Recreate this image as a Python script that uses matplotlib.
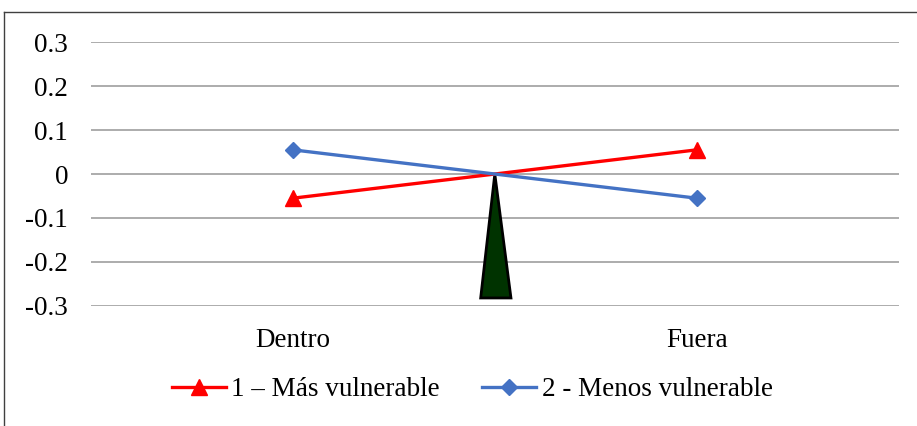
import matplotlib.pyplot as plt
from matplotlib.lines import Line2D
from matplotlib.patches import Polygon

# datos
categorias = ['Dentro', 'Fuera']
mas_vulnerable = [-0.055, 0.055]
menos_vulnerable = [0.055, -0.055]
y_ticks = [-0.3, -0.2, -0.1, 0, 0.1, 0.2, 0.3]
y_labels = ['-0.3', '-0.2', '-0.1', '0', '0.1', '0.2', '0.3']

# triangulo (fulcro) en coordenadas de datos
fulcro_x = [0.5, 0.465, 0.54]
fulcro_y = [0.0, -0.282, -0.282]

plt.rcParams['font.family'] = ['Liberation Serif', 'DejaVu Serif']
fs = 19.5

fig = plt.figure(figsize=(9.17, 4.26), dpi=100)
ax = fig.add_axes([0.0992, 0.282, 0.8808, 0.619])

x = range(len(categorias))
ax.set_axisbelow(True)
for t in y_ticks:
    ax.axhline(t, color='#A6A6A6', lw=1.3, zorder=0)

tri = Polygon(list(zip(fulcro_x, fulcro_y)), closed=True, facecolor='#003300',
              edgecolor='black', lw=2, zorder=3)
ax.add_patch(tri)

ax.plot(x, mas_vulnerable, color='#FF0000', lw=2.4, marker='^', markersize=11,
        label='1 – Más vulnerable', zorder=4)
ax.plot(x, menos_vulnerable, color='#4472C4', lw=2.4, marker='D', markersize=8,
        label='2 - Menos vulnerable', zorder=4)

ax.set_xlim(-0.5, 1.5)
ax.set_ylim(-0.3, 0.3)
ax.set_xticks(list(x))
ax.set_xticklabels(categorias, fontsize=fs)
ax.set_yticks(y_ticks)
ax.set_yticklabels(y_labels, fontsize=fs)
ax.tick_params(length=0)
ax.tick_params(axis='y', pad=16.5)
ax.tick_params(axis='x', pad=16)
for s in ax.spines.values():
    s.set_visible(False)

fig.legend(loc='center', bbox_to_anchor=(0.515, 0.085), ncol=2, frameon=False,
           fontsize=fs, handlelength=2.0, columnspacing=1.55, handletextpad=0.2)

# marco del grafico
fig.add_artist(Line2D([4/917, 4/917], [0, 1 - 12/426], color='#404040', lw=1))
fig.add_artist(Line2D([4/917, 1], [1 - 12/426, 1 - 12/426], color='#404040', lw=1))

fig.savefig('out.png', dpi=100)
